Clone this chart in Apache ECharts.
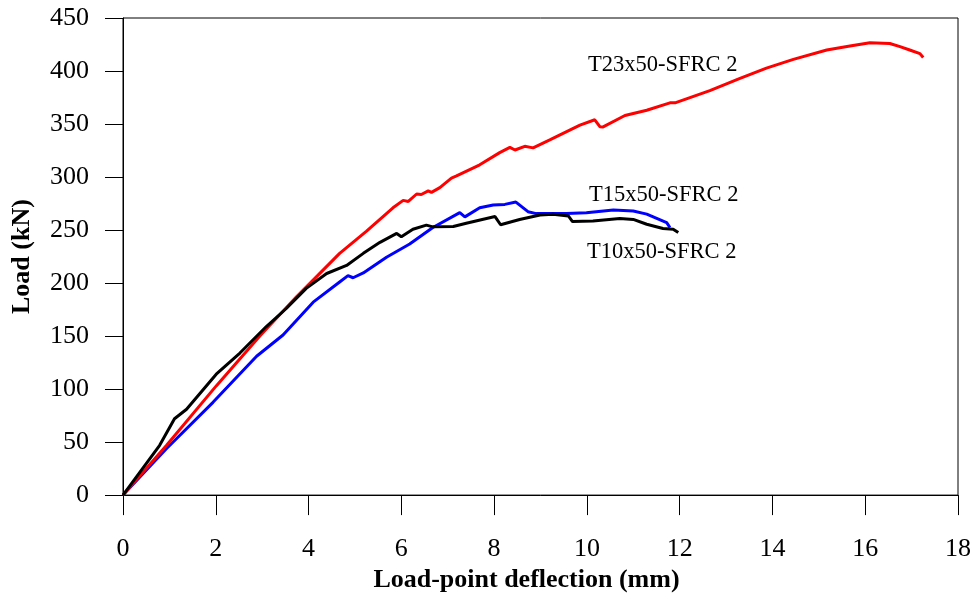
<!DOCTYPE html>
<html>
<head>
<meta charset="utf-8">
<script src="https://cdn.jsdelivr.net/npm/echarts@6/dist/echarts.min.js"></script>
<style>html,body{margin:0;padding:0;background:#fff}#c{width:977px;height:598px}</style>
</head>
<body>
<div id="c"></div>
<script>
// Tick settings
var xTicks = {min: 0, max: 18, interval: 2};
var yTicks = {min: 0, max: 450, interval: 50};

// Series names
var seriesNames = ["T23x50-SFRC 2", "T15x50-SFRC 2", "T10x50-SFRC 2"];

// T23x50-SFRC 2 : [deflection (mm), load (kN)]
var t23 = [[0,0],[0.94,47],[2.01,103],[2.95,150],[3.74,187],[4.67,228],[5.25,249],[5.82,271],[6.04,278],[6.15,277],[6.33,284],[6.43,283.5],[6.58,287],[6.65,285.5],[6.83,290],[7.08,299],[7.19,301],[7.69,311.5],[8.12,323],[8.34,328],[8.45,325.5],[8.66,329],[8.84,327.5],[9.2,335],[9.85,349],[10.17,354],[10.28,347.5],[10.35,347.3],[10.82,358],[11.29,363],[11.79,370],[11.9,370],[12.65,381.5],[13.3,393],[13.87,402.7],[14.45,411],[15.17,419.8],[15.67,423.5],[16.1,426.7],[16.53,426],[16.75,423],[16.96,419.8],[17.18,416.4],[17.25,412.7]];

// T15x50-SFRC 2
var t15 = [[0,0],[0.94,44],[1.94,87.5],[2.88,131],[3.45,151],[4.1,182],[4.67,201],[4.85,207],[4.96,205],[5.18,209.5],[5.68,224.4],[6.18,236.8],[6.68,252.4],[7.26,266.4],[7.37,262.4],[7.69,271],[7.98,273.6],[8.23,274.2],[8.47,276.4],[8.73,267.3],[8.91,265.5],[9.56,265.5],[9.99,266.4],[10.57,269],[11.0,268],[11.29,265],[11.72,257],[11.79,252.4]];

// T10x50-SFRC 2
var t10 = [[0,0],[0.79,47],[1.11,72],[1.37,81],[2.01,114],[2.52,134],[3.09,159],[3.52,176],[3.95,195],[4.39,209],[4.82,216.6],[5.18,228],[5.54,238.4],[5.9,246.8],[6.0,243.7],[6.25,250.8],[6.54,254.6],[6.68,253],[7.12,253.3],[7.4,256.4],[8.02,262.7],[8.14,255],[8.55,260],[8.99,264.2],[9.27,264.8],[9.6,263.3],[9.69,258],[10.13,258.6],[10.71,261],[11.0,260],[11.29,255.5],[11.64,251.5],[11.86,250.8],[11.97,247.7]];

var FONT = "'Liberation Serif','Times New Roman',serif";
var chart = echarts.init(document.getElementById('c'), null, {renderer: 'canvas'});

function lineSeries(name, data, color) {
  return {
    name: name, type: 'line', data: data, showSymbol: false, symbol: 'none',
    smooth: false, animation: false,
    lineStyle: {color: color, width: 3}, itemStyle: {color: color}
  };
}

chart.setOption({
  backgroundColor: '#ffffff',
  animation: false,
  grid: {left: 123, right: 19, top: 18, bottom: 98, show: true, borderColor: '#000', borderWidth: 1, backgroundColor: 'transparent'},
  xAxis: {
    type: 'value', min: xTicks.min, max: xTicks.max, interval: xTicks.interval,
    name: 'Load-point deflection (mm)', nameLocation: 'middle', nameGap: 69,
    nameTextStyle: {fontFamily: FONT, fontSize: 26, fontWeight: 'bold', color: '#000', padding: [0, 28, 0, 0]},
    axisLine: {show: true, onZero: false, lineStyle: {color: '#000', width: 1}},
    axisTick: {show: true, inside: false, length: 20, lineStyle: {color: '#000', width: 1}},
    axisLabel: {fontFamily: FONT, fontSize: 26, color: '#000', margin: 41},
    splitLine: {show: false}
  },
  yAxis: {
    type: 'value', min: yTicks.min, max: yTicks.max, interval: yTicks.interval,
    name: 'Load (kN)', nameLocation: 'middle', nameGap: 88, nameRotate: 90,
    nameTextStyle: {fontFamily: FONT, fontSize: 26, fontWeight: 'bold', color: '#000'},
    axisLine: {show: true, onZero: false, lineStyle: {color: '#000', width: 1}},
    axisTick: {show: true, inside: false, length: 18, lineStyle: {color: '#000', width: 1}},
    axisLabel: {fontFamily: FONT, fontSize: 26, color: '#000', margin: 34},
    splitLine: {show: false}
  },
  series: [
    lineSeries(seriesNames[1], t15, '#0000ff'),
    lineSeries(seriesNames[0], t23, '#ff0000'),
    lineSeries(seriesNames[2], t10, '#000000')
  ],
  graphic: [
    {type: 'text', x: 588, y: 65, style: {text: seriesNames[0], font: '22.5px ' + FONT, fill: '#000', verticalAlign: 'middle', align: 'left'}},
    {type: 'text', x: 589, y: 195, style: {text: seriesNames[1], font: '22.5px ' + FONT, fill: '#000', verticalAlign: 'middle', align: 'left'}},
    {type: 'text', x: 587, y: 252, style: {text: seriesNames[2], font: '22.5px ' + FONT, fill: '#000', verticalAlign: 'middle', align: 'left'}}
  ]
});
</script>
</body>
</html>
